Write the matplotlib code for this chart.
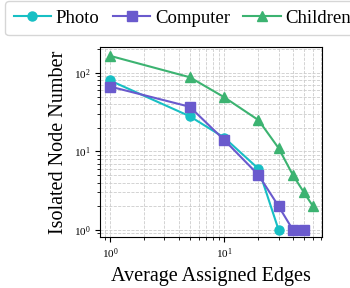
import matplotlib
matplotlib.use("Agg")
import matplotlib.pyplot as plt

plt.rcParams['font.family'] = ['Liberation Serif', 'DejaVu Serif']
plt.rcParams['mathtext.fontset'] = 'stix'

x_photo = [1, 5, 10, 20, 30]
photo = [80, 28, 15, 6, 1]
x_comp = [1, 5, 10, 20, 30, 40, 50]
computer = [67, 37, 14, 5, 2, 1, 1]
x_child = [1, 5, 10, 20, 30, 40, 50, 60]
children = [165, 88, 49, 25, 11, 5, 3, 2]

fig = plt.figure(figsize=(3.5, 2.88), dpi=100)
ax = fig.add_axes([0.286, 0.177, 0.634, 0.66])

ms = 6.5
l1, = ax.plot(x_photo, photo, color='#17BFC4', marker='o', markersize=ms, lw=1.5, label='Photo')
l2, = ax.plot(x_comp, computer, color='#6A5ACD', marker='s', markersize=ms, lw=1.5, label='Computer')
l3, = ax.plot(x_child, children, color='#3CB371', marker='^', markersize=ms, lw=1.5, label='Children')

ax.set_xscale('log')
ax.set_yscale('log')
ax.set_xlim(0.82, 72)
ax.set_ylim(0.81, 214)
ax.grid(True, which='both', ls='--', color='#cccccc', lw=0.6)
ax.tick_params(labelsize=8)
ax.set_xlabel('Average Assigned Edges', fontsize=14.5)
ax.set_ylabel('Isolated Node Number', fontsize=14.5)

fig.legend(handles=[l1, l2, l3], loc='upper left', bbox_to_anchor=(0.015, 0.995), ncol=3,
           fontsize=13.5, frameon=True, handlelength=2.0, columnspacing=0.7, handletextpad=0.25,
           borderpad=0.45, borderaxespad=0.0)

fig.savefig('out.png', dpi=100)
